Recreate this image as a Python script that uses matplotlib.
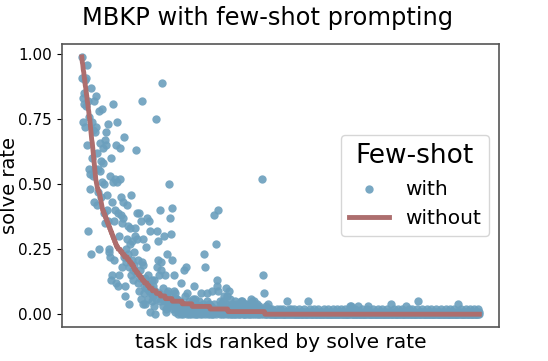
import numpy as np
import matplotlib
matplotlib.use("Agg")
import matplotlib.pyplot as plt

# solve rate (%) of each task with few-shot prompting,
# tasks ranked by their solve rate without few-shot
with_fewshot = [
    99, 91, 83, 74, 85, 81, 72, 90, 91, 80, 96, 65, 32, 82, 76, 56, 54, 48, 87, 23,
    74, 60, 71, 53, 43, 82, 70, 56, 84, 72, 62, 42, 56, 47, 78, 25, 66, 55, 59, 45,
    51, 79, 64, 58, 50, 39, 67, 35, 70, 65, 46, 40, 73, 36, 24, 25, 53, 22, 60, 13,
    43, 15, 81, 51, 36, 21, 52, 40, 65, 12, 74, 51, 39, 11, 15, 30, 64, 52, 45, 38,
    35, 18, 43, 37, 68, 22, 11, 7, 25, 20, 42, 29, 34, 23, 18, 4, 33, 27, 46, 15,
    28, 21, 13, 17, 24, 19, 33, 30, 63, 16, 39, 29, 21, 12, 9, 39, 17, 14, 6, 36,
    20, 82, 29, 19, 4, 11, 8, 4, 14, 10, 26, 12, 37, 15, 6, 9, 36, 32, 1, 8,
    10, 13, 5, 7, 11, 3, 13, 0, 9, 6, 75, 32, 18, 28, 21, 15, 8, 5, 40, 20,
    17, 6, 89, 10, 3, 7, 30, 15, 5, 2, 1, 8, 23, 9, 4, 6, 50, 37, 3, 7,
    31, 21, 41, 5, 2, 9, 15, 8, 1, 4, 6, 3, 6, 2, 0, 4, 1, 3, 5, 0,
    12, 2, 1, 4, 0, 3, 17, 7, 1, 2, 18, 0, 8, 3, 1, 5, 0, 2, 4, 1,
    0, 3, 2, 6, 1, 0, 11, 6, 2, 0, 4, 1, 0, 3, 1, 5, 2, 0, 3, 1,
    8, 1, 0, 4, 2, 1, 23, 18, 0, 3, 1, 5, 8, 2, 0, 1, 4, 0, 1, 2,
    3, 0, 9, 1, 0, 4, 38, 2, 1, 0, 27, 11, 13, 9, 40, 1, 2, 5, 0, 3,
    4, 1, 0, 2, 5, 0, 7, 1, 2, 4, 10, 0, 7, 3, 1, 0, 9, 6, 2, 0,
    1, 4, 0, 2, 3, 0, 1, 5, 0, 2, 4, 1, 0, 3, 2, 0, 1, 4, 0, 2,
    5, 1, 5, 0, 2, 3, 0, 1, 4, 0, 1, 2, 4, 0, 3, 1, 0, 2, 1, 0,
    6, 2, 5, 0, 1, 3, 5, 0, 2, 1, 0, 3, 4, 1, 0, 2, 3, 0, 1, 2,
    0, 1, 52, 2, 15, 0, 8, 1, 2, 0, 0, 3, 1, 0, 4, 2, 0, 1, 2, 0,
    0, 1, 0, 2, 1, 0, 0, 1, 0, 0, 1, 0, 2, 0, 1, 0, 0, 1, 0, 2,
    1, 0, 0, 1, 0, 2, 0, 0, 1, 0, 0, 1, 5, 0, 1, 0, 0, 2, 0, 1,
    2, 0, 1, 0, 0, 1, 0, 2, 0, 0, 1, 0, 0, 1, 0, 0, 2, 0, 1, 0,
    0, 1, 0, 0, 1, 0, 2, 0, 0, 1, 0, 0, 1, 0, 5, 0, 1, 0, 0, 2,
    0, 1, 0, 0, 0, 1, 2, 0, 1, 0, 0, 0, 1, 0, 2, 0, 0, 1, 0, 0,
    1, 0, 0, 1, 0, 0, 2, 0, 1, 0, 0, 1, 0, 0, 0, 2, 0, 1, 0, 0,
    0, 1, 0, 0, 2, 0, 0, 1, 0, 0, 0, 1, 0, 2, 0, 0, 1, 0, 0, 1,
    2, 0, 0, 1, 0, 0, 0, 1, 0, 2, 0, 0, 1, 0, 0, 0, 1, 0, 0, 2,
    3, 0, 3, 0, 1, 0, 0, 1, 0, 0, 2, 0, 0, 1, 0, 0, 3, 0, 1, 0,
    0, 1, 0, 0, 2, 0, 0, 1, 0, 0, 0, 1, 0, 0, 2, 0, 3, 0, 1, 0,
    0, 0, 1, 0, 0, 2, 0, 0, 1, 0, 0, 0, 1, 0, 0, 0, 2, 0, 1, 0,
    0, 1, 0, 0, 2, 0, 0, 1, 0, 0, 0, 0, 1, 0, 2, 0, 0, 1, 0, 0,
    1, 0, 4, 0, 0, 1, 0, 2, 0, 0, 1, 0, 0, 0, 0, 1, 2, 0, 0, 1,
    0, 0, 1, 0, 2, 0, 0, 1, 0, 0, 0, 1, 3, 0, 0, 1, 0, 2, 0, 0,
    1, 0, 0, 2, 0, 0, 1, 0, 0, 0, 1, 0, 0, 2, 0, 0, 5, 0, 1, 0,
    0, 1, 0, 0, 2, 0, 1, 0, 0, 0, 1, 0, 0, 2, 0, 0, 1, 0, 0, 0,
    1, 0, 2, 0, 0, 1, 0, 0, 0, 1, 0, 2, 0, 0, 1, 0, 0, 0, 1, 0,
    0, 2, 0, 0, 1, 0, 0, 0, 1, 0, 0, 2, 0, 1, 0, 0, 0, 1, 0, 0,
    2, 0, 0, 1, 0, 0, 0, 1, 0, 2, 0, 0, 1, 0, 0, 0, 4, 0, 1, 0,
    0, 1, 0, 2, 0, 0, 1, 0, 0, 0, 1, 0, 2, 0, 0, 1, 0, 0, 1, 0,
    0, 2, 0, 1, 0, 0, 1, 0, 2, 0, 0, 1, 0, 0, 1, 0, 2, 0, 1, 0,
]

# solve rate (%) without few-shot, sorted: (value, number of tasks)
without_runs = [
    (99, 1), (97, 1), (96, 1), (94, 1), (93, 1), (91, 1), (90, 1), (88, 1),
    (87, 1), (85, 1), (84, 1), (82, 1), (81, 1), (79, 1), (78, 1), (76, 1),
    (75, 1), (73, 1), (71, 1), (69, 1), (67, 1), (66, 1), (64, 1), (62, 1),
    (60, 1), (58, 1), (56, 1), (54, 1), (52, 1), (51, 1), (50, 1), (49, 1),
    (48, 2), (47, 2), (46, 1), (45, 1), (44, 1), (43, 1), (42, 1), (41, 1),
    (40, 2), (39, 2), (38, 2), (37, 2), (36, 2), (35, 2), (34, 2), (33, 2),
    (32, 2), (31, 2), (30, 2), (29, 2), (28, 2), (27, 2), (26, 3), (25, 5),
    (24, 4), (23, 4), (22, 6), (21, 4), (20, 4), (19, 4), (18, 2), (17, 4),
    (16, 4), (15, 4), (14, 4), (13, 4), (12, 6), (11, 4), (10, 6), (9, 8),
    (8, 8), (7, 10), (6, 14), (5, 20), (4, 20), (3, 36), (2, 36), (1, 74),
    (0, 432),
]

without = []
for v, n in without_runs:
    without += [v] * n

rate_with = np.array(with_fewshot) / 100.0
rate_without = np.array(without) / 100.0
task_ids = np.arange(len(rate_without))

fig = plt.figure(figsize=(5.48, 3.61), dpi=100)
ax = fig.add_axes([0.113, 0.094, 0.798, 0.784])

ax.scatter(task_ids, rate_with, s=36, color="#6b9fbd", alpha=0.9,
           linewidths=0, label="with")
ax.plot(task_ids, rate_without, color="#ad6e6e", lw=3.5, label="without")

ax.set_title("MBKP with few-shot prompting", fontsize=17.4, pad=14, x=0.471)
ax.set_xlabel("task ids ranked by solve rate", fontsize=14.5)
ax.set_ylabel("solve rate", fontsize=14)
ax.yaxis.set_label_coords(-0.098, 0.5)
ax.set_xticks([])
ax.set_yticks([0, 0.25, 0.5, 0.75, 1.0])
ax.set_yticklabels(["0.00", "0.25", "0.50", "0.75", "1.00"])
ax.tick_params(axis="y", labelsize=11)
for sp in ax.spines.values():
    sp.set_color("#555555")
    sp.set_linewidth(1.2)

ax.legend(title="Few-shot", fontsize=14.5, title_fontsize=19, loc="center right")

fig.savefig("out.png", dpi=100)
